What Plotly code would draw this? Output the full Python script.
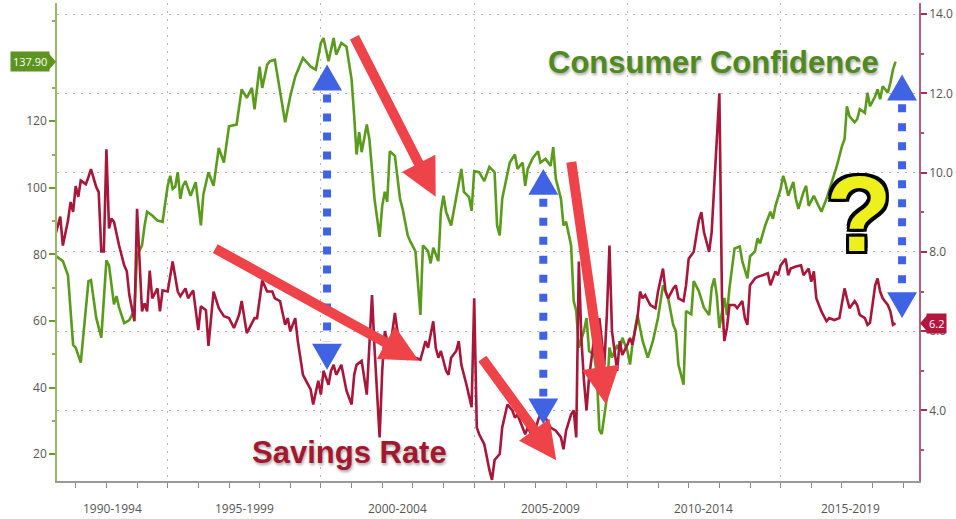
import plotly.graph_objects as go

# Conference Board consumer confidence index (left axis)
cc_months = [
    "1991-05", "1991-08", "1991-10", "1991-12", "1992-01", "1992-03", "1992-06", "1992-07",
    "1992-09", "1992-11", "1993-01", "1993-02", "1993-04", "1993-05", "1993-06", "1993-08",
    "1993-10", "1993-12", "1994-01", "1994-03", "1994-04", "1994-05", "1994-07", "1994-09",
    "1994-11", "1995-01", "1995-02", "1995-03", "1995-04", "1995-05", "1995-06", "1995-07",
    "1995-08", "1995-10", "1995-12", "1996-02", "1996-03", "1996-05", "1996-07", "1996-09",
    "1996-11", "1997-01", "1997-04", "1997-06", "1997-08", "1997-10", "1997-11", "1998-01",
    "1998-02", "1998-04", "1998-05", "1998-07", "1998-11", "1999-01", "1999-03", "1999-06",
    "1999-09", "1999-11", "2000-01", "2000-02", "2000-04", "2000-06", "2000-07", "2000-09",
    "2000-11", "2001-01", "2001-02", "2001-03", "2001-04", "2001-05", "2001-07", "2001-08",
    "2001-10", "2001-12", "2002-01", "2002-02", "2002-03", "2002-04", "2002-06", "2002-08",
    "2002-09", "2002-11", "2002-12", "2003-02", "2003-04", "2003-05", "2003-07", "2003-08",
    "2003-09", "2003-11", "2003-12", "2004-01", "2004-02", "2004-04", "2004-06", "2004-08",
    "2004-09", "2004-11", "2004-12", "2005-01", "2005-03", "2005-05", "2005-07", "2005-09",
    "2005-10", "2005-11", "2005-12", "2006-02", "2006-03", "2006-05", "2006-06", "2006-08",
    "2006-09", "2006-10", "2006-12", "2007-02", "2007-03", "2007-05", "2007-07", "2007-08",
    "2007-09", "2007-11", "2007-12", "2008-01", "2008-03", "2008-04", "2008-05", "2008-06",
    "2008-08", "2008-09", "2008-10", "2008-12", "2009-01", "2009-02", "2009-03", "2009-05",
    "2009-06", "2009-07", "2009-09", "2009-10", "2009-11", "2010-01", "2010-02", "2010-03",
    "2010-05", "2010-07", "2010-09", "2010-11", "2011-01", "2011-03", "2011-05", "2011-07",
    "2011-08", "2011-09", "2011-11", "2011-12", "2012-02", "2012-03", "2012-05", "2012-07",
    "2012-09", "2012-10", "2012-11", "2012-12", "2013-01", "2013-03", "2013-04", "2013-05",
    "2013-07", "2013-09", "2013-10", "2013-12", "2014-01", "2014-03", "2014-04", "2014-05",
    "2014-07", "2014-09", "2014-10", "2014-11", "2015-01", "2015-02", "2015-03", "2015-04",
    "2015-06", "2015-07", "2015-08", "2015-10", "2015-11", "2015-12", "2016-02", "2016-03",
    "2016-04", "2016-05", "2016-07", "2016-09", "2016-10", "2016-11", "2017-01", "2017-02",
    "2017-03", "2017-04", "2017-06", "2017-07", "2017-08", "2017-10", "2017-11", "2017-12",
    "2018-02", "2018-03", "2018-04", "2018-05", "2018-07", "2018-08", "2018-09", "2018-10",
]
cc_values = [
    79.7, 78.0, 73.7, 52.8, 52.0, 47.5, 72.0, 72.3,
    61.0, 55.0, 78.2, 76.7, 65.0, 67.5, 64.0, 59.4,
    60.3, 63.3, 79.7, 82.7, 88.7, 92.8, 91.7, 90.2,
    89.8, 100.6, 103.6, 99.7, 100.3, 104.7, 96.7, 100.6,
    102.0, 97.6, 101.7, 88.7, 98.0, 104.7, 100.6, 112.0,
    107.6, 118.5, 119.0, 129.6, 127.0, 130.0, 123.6, 136.4,
    130.0, 137.0, 138.0, 138.5, 119.7, 127.5, 133.4, 139.0,
    136.4, 135.5, 143.5, 145.0, 138.0, 145.0, 140.0, 143.5,
    142.4, 132.5, 121.5, 110.0, 116.7, 110.7, 119.0, 114.6,
    96.7, 85.3, 94.6, 98.8, 95.8, 111.0, 109.6, 96.7,
    93.7, 85.7, 83.9, 80.9, 61.8, 82.7, 81.0, 77.3,
    82.0, 78.0, 92.8, 97.6, 92.8, 88.7, 97.2, 105.7,
    98.8, 97.2, 93.1, 105.0, 104.7, 102.0, 106.3, 104.7,
    88.7, 85.7, 96.7, 104.7, 107.6, 110.0, 105.7, 107.6,
    100.6, 105.7, 109.0, 111.0, 107.6, 108.7, 106.6, 112.2,
    102.7, 96.7, 88.7, 89.8, 82.7, 66.0, 63.0, 52.0,
    57.0, 60.9, 51.0, 49.8, 43.9, 27.2, 26.0, 37.0,
    52.0, 49.0, 52.8, 51.0, 55.0, 51.0, 46.9, 52.8,
    61.8, 54.0, 49.0, 54.0, 61.0, 70.7, 66.9, 58.8,
    57.0, 46.9, 40.9, 63.0, 62.0, 72.0, 69.0, 64.0,
    61.8, 69.9, 72.8, 67.8, 57.9, 66.9, 61.8, 69.9,
    81.8, 82.4, 78.0, 72.8, 79.4, 80.9, 84.8, 83.3,
    88.7, 92.8, 90.7, 94.6, 99.7, 103.6, 101.2, 97.6,
    101.8, 96.7, 93.7, 98.8, 100.6, 94.6, 97.6, 96.0,
    94.6, 92.8, 96.7, 101.8, 103.6, 106.6, 112.5, 114.6,
    124.5, 121.5, 119.7, 120.6, 123.6, 122.5, 128.6, 124.5,
    127.5, 129.6, 126.6, 130.5, 128.6, 131.6, 135.5, 137.9,
]

# Personal saving rate, % (right axis)
sr_months = [
    "1991-05", "1991-07", "1991-08", "1991-10", "1991-11", "1991-12", "1992-01", "1992-02",
    "1992-03", "1992-05", "1992-06", "1992-07", "1992-09", "1992-10", "1992-11", "1992-12",
    "1993-01", "1993-02", "1993-03", "1993-04", "1993-06", "1993-08", "1993-09", "1993-10",
    "1993-12", "1994-01", "1994-03", "1994-04", "1994-05", "1994-06", "1994-07", "1994-09",
    "1994-10", "1994-11", "1995-01", "1995-03", "1995-05", "1995-06", "1995-08", "1995-09",
    "1995-11", "1996-01", "1996-02", "1996-04", "1996-05", "1996-07", "1996-09", "1996-11",
    "1997-01", "1997-03", "1997-05", "1997-06", "1997-08", "1997-11", "1997-12", "1998-02",
    "1998-04", "1998-06", "1998-07", "1998-09", "1998-11", "1998-12", "1999-01", "1999-03",
    "1999-04", "1999-06", "1999-08", "1999-09", "1999-10", "1999-12", "2000-01", "2000-02",
    "2000-04", "2000-05", "2000-06", "2000-07", "2000-09", "2000-11", "2001-01", "2001-02",
    "2001-03", "2001-05", "2001-07", "2001-08", "2001-09", "2001-10", "2001-12", "2002-01",
    "2002-02", "2002-04", "2002-06", "2002-07", "2002-09", "2002-10", "2002-12", "2003-02",
    "2003-04", "2003-06", "2003-07", "2003-09", "2003-10", "2003-11", "2003-12", "2004-02",
    "2004-03", "2004-04", "2004-06", "2004-07", "2004-08", "2004-10", "2004-11", "2004-12",
    "2005-01", "2005-02", "2005-03", "2005-05", "2005-07", "2005-08", "2005-09", "2005-11",
    "2005-12", "2006-01", "2006-02", "2006-04", "2006-05", "2006-06", "2006-08", "2006-09",
    "2006-10", "2006-12", "2007-02", "2007-03", "2007-05", "2007-07", "2007-09", "2007-11",
    "2007-12", "2008-01", "2008-03", "2008-04", "2008-05", "2008-06", "2008-07", "2008-08",
    "2008-09", "2008-10", "2008-12", "2009-01", "2009-02", "2009-04", "2009-05", "2009-06",
    "2009-07", "2009-09", "2009-10", "2009-11", "2010-01", "2010-02", "2010-03", "2010-05",
    "2010-06", "2010-07", "2010-08", "2010-10", "2010-12", "2011-01", "2011-03", "2011-04",
    "2011-05", "2011-07", "2011-08", "2011-09", "2011-11", "2011-12", "2012-01", "2012-03",
    "2012-05", "2012-06", "2012-07", "2012-09", "2012-10", "2012-12", "2013-01", "2013-02",
    "2013-03", "2013-04", "2013-05", "2013-07", "2013-08", "2013-10", "2013-11", "2013-12",
    "2014-01", "2014-03", "2014-04", "2014-06", "2014-08", "2014-09", "2014-11", "2014-12",
    "2015-01", "2015-03", "2015-04", "2015-05", "2015-07", "2015-09", "2015-10", "2015-12",
    "2016-01", "2016-02", "2016-03", "2016-05", "2016-07", "2016-08", "2016-10", "2016-12",
    "2017-02", "2017-03", "2017-04", "2017-06", "2017-07", "2017-08", "2017-10", "2017-11",
    "2017-12", "2018-02", "2018-03", "2018-04", "2018-05", "2018-07", "2018-08", "2018-09",
    "2018-10",
]
sr_values = [
    8.41, 8.89, 8.16, 8.79, 9.26, 9.01, 9.66, 9.39,
    9.80, 9.71, 9.89, 10.09, 9.64, 9.51, 8.01, 8.01,
    10.59, 8.59, 8.84, 8.76, 8.16, 7.66, 7.51, 6.91,
    6.25, 9.09, 6.50, 6.70, 6.50, 7.53, 6.83, 7.08,
    6.50, 7.03, 7.00, 7.76, 7.00, 6.88, 7.08, 6.83,
    7.03, 6.03, 6.63, 6.53, 5.63, 7.00, 6.58, 6.38,
    6.33, 6.08, 6.41, 6.76, 5.95, 6.33, 6.33, 7.28,
    7.00, 7.00, 6.83, 6.76, 6.16, 6.33, 6.00, 6.33,
    5.75, 4.90, 4.65, 4.53, 4.15, 4.75, 4.40, 5.00,
    4.65, 5.00, 5.15, 4.90, 5.15, 4.50, 4.15, 4.90,
    5.15, 5.25, 4.40, 5.75, 6.91, 5.58, 3.32, 5.00,
    6.00, 5.50, 6.46, 6.00, 5.50, 5.58, 5.40, 5.33,
    5.28, 5.75, 5.58, 6.25, 5.58, 5.33, 5.50, 5.00,
    4.90, 5.33, 5.50, 5.75, 5.15, 4.65, 4.33, 4.08,
    6.83, 3.57, 3.40, 3.15, 2.50, 2.25, 2.75, 2.90,
    3.57, 3.90, 4.15, 4.00, 3.82, 3.90, 3.57, 3.40,
    3.57, 3.32, 3.75, 3.90, 3.82, 3.57, 3.49, 3.32,
    3.02, 3.49, 3.90, 4.00, 3.32, 7.76, 5.83, 4.75,
    4.00, 4.83, 5.83, 5.58, 6.33, 5.15, 6.41, 8.16,
    6.00, 5.00, 5.75, 5.40, 5.66, 5.83, 5.66, 6.33,
    7.00, 6.83, 6.91, 6.66, 6.58, 7.00, 7.58, 7.00,
    6.83, 7.08, 7.16, 6.83, 6.76, 7.16, 7.83, 8.00,
    8.80, 9.00, 8.50, 8.00, 8.50, 10.84, 12.00, 6.83,
    5.75, 6.08, 6.66, 6.66, 6.58, 6.76, 6.33, 6.16,
    7.16, 7.33, 7.37, 7.41, 7.46, 7.16, 7.51, 7.41,
    7.66, 7.83, 7.41, 7.58, 7.63, 7.66, 7.41, 7.58,
    7.25, 7.51, 6.83, 6.50, 6.25, 6.33, 6.28, 6.33,
    7.08, 6.83, 6.58, 6.76, 6.66, 6.41, 6.33, 6.16,
    6.21, 7.16, 7.33, 7.00, 6.83, 6.66, 6.50, 6.16,
    6.20,
]

# Five-year bands along the time axis
period_starts = ["1995-01-01", "2000-01-01", "2005-01-01", "2010-01-01", "2015-01-01"]
period_centers = ["1993-03-10", "1997-07-01", "2002-07-01", "2007-07-01", "2012-07-01", "2017-04-10"]
period_labels = ["1990-1994", "1995-1999", "2000-2004", "2005-2009", "2010-2014", "2015-2019"]
year_ticks = [f"{y}-01-01" for y in range(1992, 2020)]

x_range = ["1991-05-23", "2019-07-08"]
cc_range = [11.94, 155.52]
sr_range = [2.22, 14.28]

GREEN = "#5a9a1c"
RED = "#a8163a"
ARROW_RED = "#ee4349"
BLUE = "#3f63e2"
TICK_FONT = dict(family="Open Sans, Arial, sans-serif", size=12, color="#555555")
GRID = dict(showgrid=True, gridcolor="#b5b5b5", gridwidth=1.4, griddash="2px,6px")

# Plot-area geometry in pixels (used for free-floating callouts)
W, H = 956, 519
ML, MR, MT, MB = 57, 34, 3, 35
PW, PH = W - ML - MR, H - MT - MB


def fx(xp):
    return (xp - ML) / PW


def fy(yp):
    return (MT + PH - yp) / PH


fig = go.Figure()
fig.add_trace(go.Scatter(
    x=sr_months, y=sr_values, yaxis="y2", mode="lines",
    line=dict(color=RED, width=2.6), name="Savings Rate", hoverinfo="x+y",
))
fig.add_trace(go.Scatter(
    x=cc_months, y=cc_values, mode="lines",
    line=dict(color=GREEN, width=2.6), name="Consumer Confidence", hoverinfo="x+y",
))

shapes = []
annotations = []

# Period labels centred in each five-year band, below the axis
for pos, label in zip(period_centers, period_labels):
    annotations.append(dict(
        x=pos, y=0, xref="x", yref="paper", text=label, showarrow=False,
        xanchor="center", yanchor="middle", yshift=-27, font=TICK_FONT,
    ))

# Red trend arrows: (tail x, tail y, tip x, tip y) in pixels
trend_arrows = [
    (355, 37, 437, 198),
    (215, 250, 420, 363),
    (483, 360, 558, 463),
    (573, 163, 608, 407),
]
for tx, ty, hx, hy in trend_arrows:
    annotations.append(dict(
        x=fx(hx), y=fy(hy), xref="paper", yref="paper", text="",
        showarrow=True, ax=tx - hx, ay=ty - hy, axref="pixel", ayref="pixel",
        arrowhead=2, arrowsize=0.75, arrowwidth=10, arrowcolor=ARROW_RED, standoff=0,
    ))

# Blue dotted double-headed gap markers: (x, top tip, bottom tip) in pixels
gap_arrows = [(328, 65, 372), (545, 170, 427), (905, 75, 320)]
HEAD_H, HEAD_W = 26, 15
for gx, top, bot in gap_arrows:
    shapes.append(dict(
        type="line", xref="paper", yref="paper",
        x0=fx(gx), x1=fx(gx), y0=fy(top + HEAD_H + 4), y1=fy(bot - HEAD_H - 2),
        line=dict(color=BLUE, width=8, dash="8px,11px"), layer="above",
    ))
    shapes.append(dict(
        type="path", xref="paper", yref="paper", layer="above",
        path=f"M{fx(gx - HEAD_W)},{fy(top + HEAD_H)} L{fx(gx)},{fy(top)} L{fx(gx + HEAD_W)},{fy(top + HEAD_H)} Z",
        fillcolor=BLUE, line=dict(width=0),
    ))
    shapes.append(dict(
        type="path", xref="paper", yref="paper", layer="above",
        path=f"M{fx(gx - HEAD_W)},{fy(bot - HEAD_H)} L{fx(gx)},{fy(bot)} L{fx(gx + HEAD_W)},{fy(bot - HEAD_H)} Z",
        fillcolor=BLUE, line=dict(width=0),
    ))

# Series titles
title_shadow = "1px 2px 3px rgba(0,0,0,0.35)"
annotations.append(dict(
    x=fx(716), y=fy(63), xref="paper", yref="paper", text="Consumer Confidence",
    showarrow=False, xanchor="center", yanchor="middle",
    font=dict(family="Liberation Sans, Arial, sans-serif", size=31, color="#4f8a1e",
              weight="bold", shadow=title_shadow),
))
annotations.append(dict(
    x=fx(351), y=fy(455), xref="paper", yref="paper", text="Savings Rate",
    showarrow=False, xanchor="center", yanchor="middle",
    font=dict(family="Liberation Sans, Arial, sans-serif", size=31, color="#a5172f",
              weight="bold", shadow=title_shadow),
))

# Big question mark
outline = ", ".join(f"{dx}px {dy}px 0 #000" for dx in (-3, 0, 3) for dy in (-3, 0, 3) if dx or dy)
annotations.append(dict(
    x=fx(862), y=fy(215), xref="paper", yref="paper", text="?",
    showarrow=False, xanchor="center", yanchor="middle",
    font=dict(family="Liberation Sans, Arial, sans-serif", size=108, color="#eef01e",
              weight="bold", shadow=outline),
))

# Last-value tags on both axes
last_cc = cc_values[-1]
last_sr = sr_values[-1]
annotations.append(dict(
    x=0, y=last_cc, xref="paper", yref="y", text=f"{last_cc:.2f}",
    showarrow=False, xanchor="right", yanchor="middle", xshift=-7,
    font=dict(family="Open Sans, Arial, sans-serif", size=11, color="white"),
    bgcolor="#5b941f", borderpad=2,
))
shapes.append(dict(
    type="path", xref="paper", yref="y", xsizemode="pixel", ysizemode="pixel",
    xanchor=0, yanchor=last_cc, path="M-8,-8 L-1,0 L-8,8 Z",
    fillcolor="#5b941f", line=dict(width=0), layer="above",
))
annotations.append(dict(
    x=1, y=last_sr, xref="paper", yref="y2", text=f"{last_sr:.1f}",
    showarrow=False, xanchor="left", yanchor="middle", xshift=7,
    font=dict(family="Open Sans, Arial, sans-serif", size=11, color="white"),
    bgcolor="#b3163f", borderpad=2,
))
shapes.append(dict(
    type="path", xref="paper", yref="y2", xsizemode="pixel", ysizemode="pixel",
    xanchor=1, yanchor=last_sr, path="M8,-8 L1,0 L8,8 Z",
    fillcolor="#b3163f", line=dict(width=0), layer="above",
))

fig.update_layout(
    width=W, height=H,
    margin=dict(l=ML, r=MR, t=MT, b=MB, pad=0),
    paper_bgcolor="white", plot_bgcolor="white",
    showlegend=False,
    xaxis=dict(
        type="date", range=x_range,
        tickmode="array", tickvals=period_starts, ticktext=[""] * len(period_starts),
        ticks="outside", ticklen=35, tickcolor="#a0a0a0", tickwidth=1,
        showline=True, linecolor="#9a9a9a", linewidth=1.5,
        minor=dict(tickmode="array", tickvals=year_ticks, ticks="outside",
                   ticklen=5, tickcolor="#888888", showgrid=False),
        zeroline=False, **GRID,
    ),
    yaxis=dict(
        range=cc_range, tickmode="array", tickvals=[20, 40, 60, 80, 100, 120],
        ticks="outside", ticklen=6, tickwidth=2, tickcolor="#6a9a2a",
        minor=dict(tickmode="array", tickvals=[30, 50, 70, 90, 110, 130, 150],
                   ticks="outside", ticklen=3, tickcolor="#8ab050", showgrid=False),
        showline=True, linecolor="#9ab868", linewidth=1.5,
        showgrid=False, zeroline=False, tickfont=TICK_FONT,
    ),
    yaxis2=dict(
        range=sr_range, overlaying="y", side="right", anchor="x",
        tickmode="array", tickvals=[4, 6, 8, 10, 12, 14], tickformat=".1f",
        ticks="outside", ticklen=6, tickwidth=2, tickcolor="#a0304e",
        minor=dict(tickmode="array", tickvals=[3, 5, 7, 9, 11, 13],
                   ticks="outside", ticklen=3, tickcolor="#b0506a", showgrid=False),
        showline=True, linecolor="#b06078", linewidth=1.5,
        zeroline=False, tickfont=TICK_FONT, **GRID,
    ),
    shapes=shapes,
    annotations=annotations,
)

fig.write_html("out.html")
